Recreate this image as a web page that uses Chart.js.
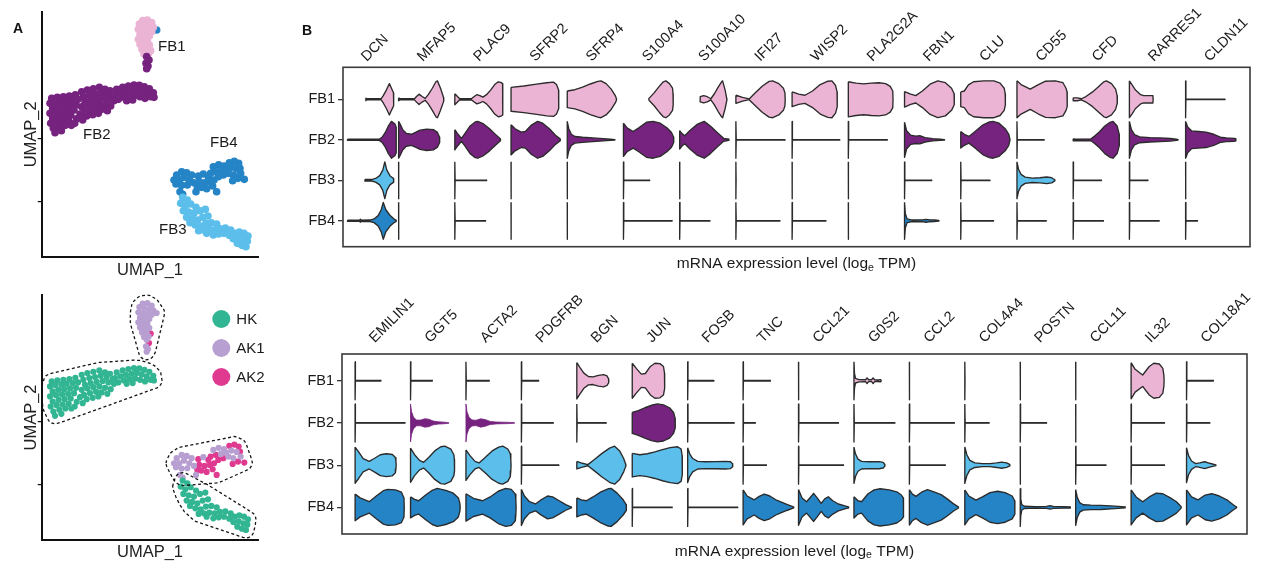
<!DOCTYPE html>
<html>
<head>
<meta charset="utf-8">
<title>Fibroblast subsets</title>
<script src="https://cdn.jsdelivr.net/npm/chart.js@4.4.1/dist/chart.umd.min.js"></script>
<style>
  html, body { margin: 0; padding: 0; background: #fff; }
  body { width: 1262px; height: 567px; position: relative; overflow: hidden; font-family: 'Liberation Sans', Arial, Helvetica, sans-serif; }
  .box { position: absolute; }
  .tag { position: absolute; font-weight: bold; font-size: 14px; line-height: 14px; color: #111; z-index: 2; }
</style>
</head>
<body>
<div class="box" style="left:0;top:0;width:280px;height:285px"><canvas id="umapCluster"></canvas></div>
<div class="box" style="left:0;top:285px;width:280px;height:282px"><canvas id="umapSample"></canvas></div>
<div class="box" style="left:290px;top:0;width:972px;height:285px"><canvas id="violinTop"></canvas></div>
<div class="box" style="left:290px;top:285px;width:972px;height:282px"><canvas id="violinBottom"></canvas></div>
<div class="tag" style="left:13px;top:21px">A</div>
<div class="tag" style="left:302px;top:23px">B</div>
<script>
// ---------- data ----------
const subsets = ['FB1', 'FB2', 'FB3', 'FB4'];
const samples = ['HK', 'AK1', 'AK2'];
const sampleCode = { H: 'HK', '1': 'AK1', '2': 'AK2' };
const umapYTicks = [16.5, 35.5];

// cells on the UMAP: [UMAP_1, UMAP_2, sample]
const cellsFB1 = [
  [30.3,70.8,'1'],[31.7,71.0,'1'],[33.0,70.2,'1'],[29.3,69.8,'1'],[30.7,69.5,'1'],[32.2,69.2,'1'],[33.5,68.8,'1'],
  [29.0,68.2,'1'],[30.3,68.0,'1'],[31.7,67.8,'1'],[33.0,67.5,'1'],[29.5,66.6,'1'],[30.9,66.4,'1'],[32.3,66.2,'1'],
  [29.0,65.2,'1'],[30.3,65.0,'1'],[31.7,64.8,'1'],[29.5,63.7,'1'],[30.9,63.4,'1'],[32.3,63.5,'1'],[30.1,62.2,'1'],
  [31.5,62.0,'1'],[32.7,61.8,'2'],[30.7,60.8,'1'],[32.1,61.0,'1']
];
const cellsFB2 = [
  [31.5,60.0,'1'],[32.2,59.0,'2'],[31.3,58.0,'1'],[31.9,57.2,'1'],[31.5,56.4,'1'],
  [22.5,50.2,'H'],[24.3,50.8,'H'],[26.0,51.2,'H'],[27.7,51.5,'H'],[29.3,51.4,'H'],[30.8,51.0,'H'],[32.3,50.4,'H'],
  [33.5,49.2,'H'],[33.7,47.8,'H'],[22.0,48.5,'H'],[23.7,49.0,'H'],[25.3,49.5,'H'],[27.0,49.8,'H'],[28.5,50.0,'H'],
  [30.0,49.6,'H'],[31.5,49.0,'H'],[32.7,48.0,'H'],[23.0,47.2,'H'],[24.7,47.8,'H'],[26.3,48.2,'H'],[28.0,48.4,'H'],
  [29.5,48.0,'H'],[31.0,47.5,'H'],[25.5,46.8,'H'],[27.3,47.0,'H'],
  [12.0,49.5,'H'],[13.7,50.0,'H'],[15.5,50.4,'H'],[17.3,50.8,'H'],[19.0,50.2,'H'],[20.5,49.8,'H'],
  [12.5,48.0,'H'],[14.3,48.5,'H'],[16.0,48.8,'H'],[17.7,49.2,'H'],[19.5,48.8,'H'],[21.3,48.2,'H'],
  [13.0,46.5,'H'],[14.7,47.0,'H'],[16.5,47.4,'H'],[18.3,47.6,'H'],[20.0,47.2,'H'],[21.7,46.8,'H'],
  [12.0,45.0,'H'],[13.7,45.4,'H'],[15.5,45.8,'H'],[17.3,46.0,'H'],[19.0,45.6,'H'],[20.7,45.2,'H'],
  [12.7,43.5,'H'],[14.5,44.0,'H'],[16.3,44.4,'H'],[18.0,44.2,'H'],[19.7,43.8,'H'],
  [13.5,42.2,'H'],[15.3,42.6,'H'],[17.0,43.0,'H'],
  [3.0,47.5,'H'],[4.7,47.8,'H'],[6.5,48.0,'H'],[8.3,48.2,'H'],[10.1,48.6,'H'],
  [2.5,46.0,'H'],[4.1,46.4,'H'],[5.9,46.6,'H'],[7.5,46.8,'H'],[9.3,47.0,'H'],[10.9,47.2,'H'],
  [3.3,44.5,'H'],[5.0,45.0,'H'],[6.7,45.2,'H'],[8.5,45.4,'H'],[10.3,45.6,'H'],
  [2.5,43.0,'H'],[4.3,43.4,'H'],[6.1,43.6,'H'],[7.9,43.8,'H'],[9.7,44.0,'H'],[11.5,42.8,'H'],
  [3.3,41.5,'H'],[5.1,42.0,'H'],[6.9,42.2,'H'],[8.7,42.4,'H'],[10.5,41.4,'H'],[12.3,41.0,'H'],
  [2.7,40.0,'H'],[4.5,40.4,'H'],[6.3,40.6,'H'],[8.1,40.8,'H'],[9.9,40.0,'H'],
  [3.5,38.5,'H'],[5.3,39.0,'H'],[7.1,39.4,'H'],[8.9,39.4,'H'],[4.0,37.2,'H'],[5.9,37.8,'H']
];
const cellsFB3 = [
  [42.3,17.8,'H'],[43.7,17.0,'H'],[41.7,16.0,'H'],[43.1,15.2,'H'],[44.7,15.8,'H'],[46.3,14.8,'H'],[42.5,13.8,'H'],
  [44.1,13.4,'H'],[45.7,13.0,'H'],[47.5,13.8,'H'],[49.1,14.2,'H'],[43.5,11.8,'H'],[45.1,11.4,'H'],[46.7,11.0,'H'],
  [48.3,11.8,'H'],[49.9,12.2,'H'],[44.5,10.2,'H'],[46.1,9.5,'H'],[47.7,9.2,'H'],[49.3,10.0,'H'],[50.9,10.2,'H'],
  [52.5,9.8,'H'],[47.1,7.8,'H'],[48.7,8.0,'H'],[50.3,8.2,'H'],[51.9,8.0,'H'],[53.5,8.4,'H'],[55.1,8.6,'H'],
  [56.7,8.0,'H'],[51.5,6.5,'H'],[53.1,6.8,'H'],[54.7,7.0,'H'],[56.3,6.4,'H'],[57.9,7.0,'H'],[59.3,7.4,'H'],
  [60.7,7.0,'H'],[61.9,6.2,'H'],[57.5,5.4,'H'],[59.1,5.6,'H'],[60.5,5.0,'H'],[61.7,4.6,'H'],[58.7,4.0,'H'],
  [60.1,3.4,'H'],[61.3,3.0,'H'],[49.5,7.0,'H']
];
const cellsFB4 = [
  [34.5,68.0,'1'],
  [39.7,23.0,'1'],[40.5,24.5,'1'],[42.0,25.5,'1'],[43.5,25.2,'1'],[45.0,24.5,'1'],[41.3,23.0,'1'],[42.7,23.8,'1'],
  [44.3,23.0,'1'],[45.7,22.2,'1'],[40.3,21.8,'1'],[42.0,21.4,'1'],[43.7,21.5,'1'],[41.5,19.5,'1'],[42.3,18.7,'1'],
  [47.0,24.2,'2'],[48.5,24.8,'1'],[50.0,24.0,'2'],[47.3,22.5,'2'],[48.9,22.2,'2'],[50.5,22.5,'2'],[47.9,20.8,'2'],
  [49.5,20.4,'2'],[51.3,21.2,'2'],[52.5,19.5,'2'],[46.3,19.5,'1'],[46.7,21.0,'2'],
  [51.5,27.0,'1'],[53.1,27.6,'1'],[54.7,27.2,'1'],[56.3,28.2,'2'],[57.8,28.6,'2'],[59.1,28.0,'2'],[52.3,25.5,'2'],
  [53.8,25.8,'1'],[55.3,26.2,'1'],[56.9,26.8,'1'],[58.5,26.4,'1'],[59.7,25.0,'1'],[53.0,24.0,'2'],[54.5,24.5,'2'],
  [56.0,25.0,'1'],[57.5,24.5,'1'],[58.9,23.5,'2'],[51.7,23.0,'2'],[50.7,25.0,'2'],[57.3,22.8,'2'],[59.5,26.5,'2'],
  [60.8,23.2,'2']
];

const topGenes = ['DCN','MFAP5','PLAC9','SFRP2','SFRP4','S100A4','S100A10','IFI27','WISP2','PLA2G2A','FBN1','CLU','CD55','CFD','RARRES1','CLDN11'];
const bottomGenes = ['EMILIN1','GGT5','ACTA2','PDGFRB','BGN','JUN','FOSB','TNC','CCL21','G0S2','CCL2','COL4A4','POSTN','CCL11','IL32','COL18A1'];

// one entry per subset (FB1..FB4): a number = almost only zeros (spike at 0, thin tail up to that level),
// a list = [expression level, relative density]
const topViolins = [
  [ [[4.6,0.08],[4.7,0.03],[7.6,0.03],[8.0,0.2],[8.6,0.5],[9.2,0.85],[9.6,0.6],[10,0.35],[10.05,0]],
    [[1.0,0.03],[7.2,0.03],[7.8,0.15],[8.4,0.4],[9.0,0.75],[9.6,1.0],[10.3,0.85],[10.5,0.7],[10.55,0]],
    [[4.4,0.04],[5.7,0.04],[6.5,0.1],[7.3,0.25],[7.9,0.55],[8.3,1.0],[8.7,0.55],[9.3,0.25],[10.0,0.1],[10.05,0]],
    [[1.0,0.03],[3.4,0.03],[3.5,0.08],[3.6,0.03],[5.4,0.04],[6.2,0.1],[7.0,0.28],[7.6,0.6],[8.0,1.0],[8.5,0.6],[9.3,0.3],[10.0,0.12],[10.5,0.03],[10.55,0]] ],
  [ [[0,0.08],[0.3,0.03],[3.1,0.03],[3.6,0.18],[4.0,0.28],[4.6,0.15],[5.2,0.05],[5.8,0.25],[6.6,0.6],[7.3,0.95],[7.6,1.0],[8.2,0.6],[8.8,0.1],[8.85,0]],
    [[0,1.0],[0.3,0.85],[0.8,0.55],[1.5,0.35],[2.5,0.3],[3.3,0.4],[4.2,0.52],[5.5,0.58],[6.8,0.55],[7.6,0.4],[8.0,0.15],[8.05,0]],
    0, 0 ],
  [ [[0,0.3],[0.9,0.04],[3.3,0.04],[3.8,0.15],[4.3,0.25],[4.9,0.2],[5.5,0.12],[6.2,0.25],[7.0,0.5],[7.8,0.8],[8.5,0.95],[9.0,0.92],[9.35,0.85],[9.4,0]],
    [[0,0.55],[0.5,0.35],[1.3,0.08],[2.0,0.35],[3.0,0.75],[4.0,0.97],[4.5,1.0],[5.5,0.88],[6.8,0.6],[8.0,0.28],[8.9,0.05],[8.95,0]],
    6.2, 6.0 ],
  [ [[0,0.65],[2.5,0.72],[5.0,0.82],[7.0,0.9],[8.3,0.93],[8.9,0.8],[9.3,0.5],[9.35,0]],
    [[0,0.82],[0.8,0.6],[2.0,0.42],[2.8,0.45],[4.0,0.8],[5.2,1.0],[6.2,0.9],[7.5,0.6],[8.7,0.25],[9.6,0.05],[9.65,0]],
    0, 0 ],
  [ [[0,0.45],[1.5,0.52],[3,0.66],[4.5,0.83],[6,0.97],[6.6,1.0],[7.6,0.85],[8.6,0.55],[9.4,0.2],[9.6,0.05],[9.65,0]],
    [[0,1.0],[0.3,0.6],[0.8,0.3],[1.5,0.18],[3.0,0.14],[5.0,0.1],[7.0,0.06],[8.5,0.03],[9.3,0.01],[9.35,0]],
    0, 0 ],
  [ [[4.9,0],[5.0,0.05],[6.0,0.35],[7.0,0.7],[7.8,0.95],[8.3,1.0],[9.0,0.85],[9.6,0.6],[9.7,0.3],[9.75,0]],
    [[0,0.9],[0.7,0.65],[1.9,0.45],[3.0,0.65],[4.5,0.95],[5.8,1.0],[7.2,0.9],[8.5,0.65],[9.4,0.4],[9.8,0.15],[9.85,0]],
    5.1, 9.5 ],
  [ [[4.0,0],[4.02,0.14],[4.7,0.2],[5.4,0.14],[6.1,0.03],[6.8,0.3],[7.5,0.65],[8.2,0.95],[8.4,1.0],[8.9,0.5],[9.2,0.05],[9.25,0]],
    [[0,0.5],[0.4,0.35],[1.0,0.22],[2.0,0.5],[3.5,0.85],[4.8,1.0],[6.0,0.75],[7.5,0.35],[8.6,0.08],[9.6,0.03],[9.65,0]],
    0, 5.9 ],
  [ [[0,0.22],[1.3,0.1],[2.6,0.02],[3.8,0.35],[5.2,0.72],[6.5,0.97],[7.2,1.0],[8.4,0.85],[9.3,0.6],[9.6,0.35],[9.65,0]],
    9.6, 0, 8.6 ],
  [ [[0,0.4],[1.3,0.28],[2.5,0.22],[4.0,0.45],[5.5,0.8],[7.0,0.98],[7.8,1.0],[8.5,0.75],[8.8,0.4],[8.85,0]],
    9.3, 0, 6.6 ],
  [ [[0,0.95],[1.5,0.88],[3.0,0.84],[4.5,0.88],[6.0,0.9],[7.3,0.85],[8.2,0.7],[8.7,0.45],[8.75,0]],
    7.6, 0, 0 ],
  [ [[0,0.42],[1.2,0.28],[2.2,0.2],[3.5,0.45],[5.0,0.82],[6.5,1.0],[8.0,0.9],[9.2,0.6],[9.7,0.3],[9.75,0]],
    [[0,0.95],[0.4,0.5],[1.2,0.25],[2.2,0.2],[3.0,0.22],[4.0,0.12],[5.5,0.06],[7.0,0.03],[7.8,0.01],[7.85,0]],
    5.3,
    [[0,1.0],[0.15,0.4],[0.5,0.1],[1.5,0.04],[3.5,0.05],[4.2,0.08],[4.9,0.05],[5.8,0.04],[6.7,0.02],[6.75,0]] ],
  [ [[0,0.4],[0.7,0.45],[1.5,0.78],[2.5,0.95],[4.5,1.0],[6.5,1.0],[7.7,0.88],[8.5,0.6],[8.7,0.3],[8.75,0]],
    [[0,0.45],[0.7,0.3],[1.6,0.18],[2.8,0.45],[4.3,0.8],[5.6,0.97],[6.3,1.0],[7.5,0.9],[8.7,0.6],[9.4,0.3],[9.6,0.05],[9.65,0]],
    5.7, 6.4 ],
  [ [[0,1.0],[0.8,0.8],[2.6,0.55],[4.2,0.8],[5.6,0.98],[7.5,1.0],[9.0,0.9],[9.6,0.6],[9.8,0.4],[9.85,0]],
    5.3,
    [[0,1.0],[0.3,0.6],[0.8,0.32],[1.6,0.17],[3.0,0.12],[4.5,0.14],[5.8,0.18],[6.8,0.14],[7.4,0.03],[7.45,0]],
    5.7 ],
  [ [[0,0.08],[0.8,0.08],[1.6,0.03],[2.5,0.15],[3.8,0.4],[5.0,0.7],[6.0,0.95],[6.5,1.0],[7.5,0.85],[8.3,0.55],[8.6,0.2],[8.65,0]],
    [[0,0.05],[0.5,0.04],[3.5,0.05],[4.2,0.2],[5.2,0.45],[6.2,0.75],[7.2,0.95],[7.8,1.0],[8.6,0.75],[9.0,0.3],[9.05,0]],
    5.5, 5.9 ],
  [ [[0,1.0],[0.5,0.8],[1.2,0.5],[2.2,0.25],[2.8,0.2],[4.6,0.2],[4.65,0]],
    [[0,1.0],[0.4,0.55],[1.0,0.28],[2.0,0.16],[4.0,0.12],[6.0,0.1],[8.0,0.07],[9.2,0.03],[9.5,0.01],[9.55,0]],
    3.6, 5.8 ],
  [ 7.7,
    [[0,1.0],[0.4,0.7],[1.2,0.48],[2.5,0.45],[4.0,0.42],[5.5,0.3],[6.8,0.14],[8.0,0.1],[9.5,0.08],[9.8,0.06],[9.85,0]],
    0, 2.3 ]
];

const bottomViolins = [
  [ 5.1, 9.9,
    [[0,0.95],[0.7,0.7],[1.6,0.35],[2.8,0.2],[3.8,0.35],[5.0,0.55],[6.2,0.6],[7.4,0.56],[8.0,0.4],[8.1,0.2],[8.15,0]],
    [[0,0.7],[1.0,0.5],[2.8,0.3],[4.2,0.6],[5.6,0.88],[6.5,0.95],[8.0,0.92],[9.2,0.8],[9.7,0.5],[9.75,0]] ],
  [ 4.3,
    [[0,1.0],[0.2,0.6],[0.6,0.3],[1.2,0.15],[2.0,0.15],[2.8,0.22],[3.6,0.2],[4.5,0.1],[5.5,0.06],[6.8,0.04],[7.6,0.01],[7.65,0]],
    [[0,0.9],[0.8,0.55],[1.8,0.25],[2.6,0.15],[3.6,0.4],[4.8,0.75],[6.0,0.97],[6.8,1.0],[8.0,0.85],[8.6,0.55],[8.7,0.3],[8.75,0]],
    [[0,0.55],[0.8,0.42],[1.6,0.35],[3.0,0.65],[4.3,0.9],[5.3,1.0],[7.0,0.9],[8.5,0.75],[9.5,0.5],[9.8,0.2],[9.85,0]] ],
  [ 4.6,
    [[0,1.0],[0.2,0.6],[0.6,0.3],[1.2,0.16],[2.0,0.14],[2.9,0.22],[3.8,0.18],[4.8,0.08],[6.0,0.05],[7.5,0.04],[8.8,0.03],[9.6,0.01],[9.65,0]],
    [[0,0.8],[0.8,0.5],[1.8,0.2],[2.6,0.12],[3.8,0.4],[5.2,0.75],[6.5,0.95],[7.3,1.0],[8.3,0.85],[8.8,0.6],[8.9,0.3],[8.95,0]],
    [[0,0.72],[1.5,0.48],[3.3,0.35],[4.8,0.55],[6.4,0.85],[7.9,1.0],[9.0,0.95],[9.8,0.7],[9.9,0.4],[9.95,0]] ],
  [ 3.4, 6.3, 7.4,
    [[0,0.95],[0.6,0.6],[1.6,0.3],[2.8,0.18],[3.8,0.38],[5.2,0.6],[6.2,0.55],[7.5,0.35],[8.8,0.15],[9.9,0.02],[9.95,0]] ],
  [ [[0,0.96],[0.6,0.7],[1.4,0.4],[2.3,0.22],[3.2,0.2],[4.3,0.28],[5.3,0.32],[6.0,0.25],[6.3,0.1],[6.35,0]],
    5.8,
    [[0,0.2],[1.1,0.1],[2.2,0.03],[3.5,0.3],[5.0,0.62],[6.5,0.9],[7.5,1.0],[8.5,0.75],[9.3,0.35],[9.7,0.05],[9.75,0]],
    [[0,0.5],[0.9,0.4],[1.9,0.35],[3.2,0.55],[4.8,0.82],[6.2,0.98],[6.8,1.0],[8.0,0.75],[9.2,0.4],[9.8,0.15],[9.85,0]] ],
  [ [[0,0.92],[0.8,0.65],[1.8,0.35],[2.6,0.38],[3.6,0.75],[4.5,0.92],[5.5,0.9],[6.2,0.75],[6.4,0.4],[6.45,0]],
    [[0,0.55],[1.2,0.65],[2.5,0.8],[3.8,0.93],[5.0,1.0],[6.2,0.95],[7.4,0.8],[8.2,0.55],[8.5,0.25],[8.55,0]],
    [[0,0.62],[1.5,0.55],[3.0,0.6],[4.5,0.7],[6.0,0.82],[7.5,0.92],[9.0,0.97],[9.7,0.85],[9.9,0.5],[9.95,0]],
    7.9 ],
  [ 5.2, 9.2,
    [[0,0.92],[0.4,0.6],[1.0,0.35],[2.0,0.2],[3.5,0.18],[5.5,0.19],[7.5,0.2],[8.5,0.18],[8.9,0.08],[8.95,0]],
    9.9 ],
  [ 5.4, 2.4, 4.6,
    [[0,0.92],[0.8,0.6],[2.2,0.4],[3.2,0.58],[4.2,0.7],[5.3,0.6],[6.5,0.4],[7.6,0.28],[8.8,0.15],[10.0,0.03],[10.05,0]] ],
  [ 0, 7.9, 8.9,
    [[0,0.94],[0.7,0.5],[1.6,0.3],[2.4,0.55],[3.0,0.74],[3.7,0.5],[4.5,0.21],[5.2,0.45],[5.9,0.56],[6.8,0.35],[7.9,0.18],[9.2,0.08],[9.9,0.03],[9.95,0]] ],
  [ [[0,1.0],[0.1,0.4],[0.3,0.12],[1.0,0.06],[2.3,0.05],[2.6,0.15],[2.9,0.05],[3.5,0.05],[3.8,0.15],[4.1,0.05],[4.8,0.04],[5.3,0.06],[5.4,0]],
    8.1,
    [[0,0.95],[0.3,0.6],[0.8,0.32],[1.5,0.2],[3.0,0.18],[5.0,0.19],[5.8,0.15],[6.1,0.05],[6.15,0]],
    [[0,0.56],[0.8,0.35],[1.5,0.3],[2.8,0.72],[4.0,0.92],[5.2,0.98],[7.0,0.92],[8.5,0.82],[9.4,0.65],[9.8,0.5],[9.85,0]] ],
  [ 0, 8.9, 7.1,
    [[0,0.93],[0.6,0.7],[1.3,0.58],[2.4,0.8],[3.6,0.93],[5.0,0.8],[6.3,0.67],[7.5,0.45],[8.7,0.2],[9.7,0.03],[9.75,0]] ],
  [ 0, 4.8,
    [[0,0.96],[0.4,0.55],[1.0,0.25],[2.0,0.12],[3.5,0.08],[5.0,0.08],[6.3,0.12],[7.3,0.16],[8.3,0.12],[8.9,0.04],[8.95,0]],
    [[0,0.92],[0.8,0.6],[2.2,0.38],[3.5,0.55],[5.0,0.78],[6.5,0.85],[8.0,0.78],[9.4,0.6],[9.9,0.35],[9.95,0]] ],
  [ 0, 5.2, 0,
    [[0,1.0],[0.1,0.45],[0.3,0.15],[0.8,0.06],[3.0,0.04],[5.2,0.05],[5.9,0.09],[6.6,0.05],[8.5,0.04],[9.9,0.03],[9.95,0]] ],
  [ 0, 0, 6.0,
    [[0,0.94],[0.3,0.55],[0.8,0.25],[1.5,0.14],[3.0,0.12],[5.0,0.11],[7.0,0.08],[8.5,0.05],[9.8,0.02],[9.85,0]] ],
  [ [[0,0.95],[0.8,0.6],[2.3,0.3],[3.6,0.75],[4.5,0.92],[5.6,0.88],[6.3,0.65],[6.5,0.3],[6.55,0]],
    6.6, 6.6,
    [[0,0.92],[1.0,0.55],[2.3,0.3],[3.6,0.55],[5.0,0.75],[6.3,0.72],[7.8,0.5],[9.0,0.3],[9.9,0.05],[9.95,0]] ],
  [ 5.3, 4.6,
    [[0,0.92],[0.4,0.5],[1.0,0.22],[1.8,0.08],[2.6,0.12],[3.6,0.18],[4.6,0.1],[5.8,0.02],[5.85,0]],
    [[0,0.92],[1.0,0.55],[2.3,0.4],[3.7,0.65],[5.0,0.72],[6.5,0.6],[8.0,0.4],[9.2,0.15],[9.9,0.02],[9.95,0]] ]
];

// ---------- styles ----------
const FONT = "'Liberation Sans', Arial, Helvetica, sans-serif";
Chart.defaults.font.family = FONT;
Chart.defaults.color = '#1a1a1a';
const subsetColors = { FB1: '#ecb4d4', FB2: '#76237f', FB3: '#5cbeea', FB4: '#2484c6' };
const sampleColors = { HK: '#31b592', AK1: '#b89fd1', AK2: '#df3a90' };
const plainOutline = ['GGT5:FB2', 'ACTA2:FB2'];   // drawn without the dark edge
const SLOT = 11;                                   // one gene column on the expression axis
const clusterLabelAt = { FB1: [34.9, 62.9], FB2: [12.4, 36.5], FB4: [50.5, 34.1], FB3: [35.2, 8.0] };

// ---------- UMAP panels ----------
const clusterCells = { FB1: cellsFB1, FB2: cellsFB2, FB3: cellsFB3, FB4: cellsFB4 };

function convexHull(pts) {
  pts = pts.slice().sort((a, b) => a[0] - b[0] || a[1] - b[1]);
  const cross = (o, a, b) => (a[0] - o[0]) * (b[1] - o[1]) - (a[1] - o[1]) * (b[0] - o[0]);
  const lower = [], upper = [];
  for (const p of pts) {
    while (lower.length >= 2 && cross(lower[lower.length - 2], lower[lower.length - 1], p) <= 0) lower.pop();
    lower.push(p);
  }
  for (let i = pts.length - 1; i >= 0; i--) {
    const p = pts[i];
    while (upper.length >= 2 && cross(upper[upper.length - 2], upper[upper.length - 1], p) <= 0) upper.pop();
    upper.push(p);
  }
  upper.pop(); lower.pop();
  return lower.concat(upper);
}

// groups of neighbouring cells; tiny stray groups join the closest big one
function outlineGroups() {
  const comps = [];
  Object.values(clusterCells).forEach(cells => {
    const seen = cells.map(() => false);
    cells.forEach((c, i) => {
      if (seen[i]) return;
      const comp = [], stack = [i];
      seen[i] = true;
      while (stack.length) {
        const k = stack.pop();
        comp.push(cells[k]);
        cells.forEach((d, j) => {
          if (!seen[j] && Math.hypot(d[0] - cells[k][0], d[1] - cells[k][1]) < 3.2) { seen[j] = true; stack.push(j); }
        });
      }
      comps.push(comp);
    });
  });
  const big = comps.filter(c => c.length >= 8);
  comps.filter(c => c.length < 8).forEach(small => {
    let best = null, bd = Infinity;
    big.forEach(b => b.forEach(p => small.forEach(q => {
      const d = Math.hypot(p[0] - q[0], p[1] - q[1]);
      if (d < bd) { bd = d; best = b; }
    })));
    best.push(...small);
  });
  return big;
}

const sampleOutlines = {
  id: 'sampleOutlines',
  afterDatasetsDraw(chart) {
    const {ctx, scales: {x, y}} = chart;
    const pad = 8;
    ctx.save();
    ctx.setLineDash([3, 2.5]);
    ctx.lineWidth = 1.3;
    ctx.strokeStyle = '#151515';
    outlineGroups().forEach(group => {
      const ring = [];
      group.forEach(c => {
        const px = x.getPixelForValue(c[0]), py = y.getPixelForValue(c[1]);
        for (let k = 0; k < 16; k++) {
          const a = k * Math.PI / 8;
          ring.push([px + pad * Math.cos(a), py + pad * Math.sin(a)]);
        }
      });
      const hull = convexHull(ring);
      ctx.beginPath();
      hull.forEach((p, i) => (i ? ctx.lineTo(p[0], p[1]) : ctx.moveTo(p[0], p[1])));
      ctx.closePath();
      ctx.stroke();
    });
    ctx.restore();
  }
};

const clusterLabels = {
  id: 'clusterLabels',
  afterDatasetsDraw(chart) {
    const {ctx, scales: {x, y}} = chart;
    ctx.save();
    ctx.font = '15px ' + FONT;
    ctx.fillStyle = '#1a1a1a';
    ctx.textBaseline = 'middle';
    Object.entries(clusterLabelAt).forEach(([name, p]) => {
      ctx.fillText(name, x.getPixelForValue(p[0]), y.getPixelForValue(p[1]));
    });
    ctx.restore();
  }
};

const sampleLegend = {
  id: 'sampleLegend',
  afterDraw(chart) {
    const {ctx, chartArea} = chart;
    ctx.save();
    chart.data.datasets.forEach((ds, i) => {
      const cx = chartArea.right - 37, cy = chartArea.top + 24 + i * 29;
      ctx.beginPath();
      ctx.arc(cx, cy, 9, 0, Math.PI * 2);
      ctx.fillStyle = ds.backgroundColor;
      ctx.fill();
      ctx.font = '15px ' + FONT;
      ctx.fillStyle = '#1a1a1a';
      ctx.textBaseline = 'middle';
      ctx.fillText(ds.label, cx + 15, cy + 0.5);
    });
    ctx.restore();
  }
};

function umapChart(id, datasets, padTop, bottomH, plugins) {
  return new Chart(document.getElementById(id), {
    type: 'scatter',
    data: { datasets },
    options: {
      responsive: true, maintainAspectRatio: false, animation: false, events: [],
      layout: { padding: { top: padTop, right: 21.7, left: 0, bottom: 0 } },
      plugins: { legend: { display: false }, tooltip: { enabled: false } },
      scales: {
        x: {
          min: 0, max: 65,
          grid: { display: false, drawTicks: false },
          ticks: { display: false },
          border: { display: true, color: '#111', width: 2 },
          title: { display: true, text: 'UMAP_1', font: { size: 16.5 }, color: '#222', padding: { top: 0, bottom: 5 } },
          afterFit: s => { s.height = bottomH; s.paddingLeft = s.paddingRight = 0; }
        },
        y: {
          min: 0, max: 73.4,
          grid: { display: true, drawOnChartArea: false, drawTicks: true, tickLength: 4, color: '#111', lineWidth: 1.2 },
          ticks: { display: false },
          afterBuildTicks: s => { s.ticks = umapYTicks.map(v => ({ value: v })); },
          border: { display: true, color: '#111', width: 2 },
          title: { display: true, text: 'UMAP_2', font: { size: 16.5 }, color: '#222', padding: { top: 22, bottom: 0 } },
          afterFit: s => { s.width = 41.7; s.paddingTop = s.paddingBottom = 0; }
        }
      }
    },
    plugins
  });
}

const clusterDatasets = ['FB2', 'FB1', 'FB3', 'FB4'].map(name => ({
  label: name,
  data: clusterCells[name].map(c => ({ x: c[0], y: c[1] })),
  backgroundColor: subsetColors[name],
  pointRadius: 3.8, pointBorderWidth: 0
}));
umapChart('umapCluster', clusterDatasets, 12, 28.3, [clusterLabels]);

const allCells = [].concat(cellsFB1, cellsFB2, cellsFB3, cellsFB4);
const sampleDatasets = samples.map(name => ({
  label: name,
  data: allCells.filter(c => sampleCode[c[2]] === name).map(c => ({ x: c[0], y: c[1] })),
  backgroundColor: sampleColors[name],
  pointRadius: 3.1, pointBorderWidth: 0
}));
umapChart('umapSample', sampleDatasets, 10, 27, [sampleOutlines, sampleLegend]);

// ---------- violin panels ----------
function violinProfile(v) {
  if (typeof v === 'number') {
    return v > 0 ? [[0, 1], [0.06, 0.012], [v, 0.012], [v + 0.03, 0]] : [[0, 1], [0.04, 0]];
  }
  return v;
}

function buildViolins(genes, violins, halfWidth) {
  const datasets = [];
  genes.forEach((gene, gi) => {
    violins[gi].forEach((v, ri) => {
      const prof = violinProfile(v);
      const x0 = gi * SLOT, row = ri + 1;
      const upper = prof.map(p => ({ x: x0 + p[0], y: row - p[1] * halfWidth }));
      const lower = prof.slice().reverse().map(p => ({ x: x0 + p[0], y: row + p[1] * halfWidth }));
      const color = subsetColors[subsets[ri]];
      const plain = plainOutline.includes(gene + ':' + subsets[ri]);
      datasets.push({
        label: gene + ' ' + subsets[ri],
        data: upper.concat(lower, [upper[0]]),
        showLine: true, fill: 'shape', tension: 0,
        backgroundColor: color,
        borderColor: plain ? color : '#2b2b2b',
        borderWidth: plain ? 0.8 : 1.35,
        borderJoinStyle: 'round',
        pointRadius: 0
      });
    });
  });
  return datasets;
}

const panelBox = {
  id: 'panelBox',
  afterDatasetsDraw(chart) {
    const {ctx, chartArea: a} = chart;
    ctx.save();
    ctx.strokeStyle = '#3a3a3a';
    ctx.lineWidth = 1.6;
    ctx.strokeRect(a.left, a.top, a.right - a.left, a.bottom - a.top);
    ctx.restore();
  }
};

// x title with the subscript in log_e
const expressionTitle = {
  id: 'expressionTitle',
  afterDraw(chart) {
    const {ctx, chartArea: a} = chart;
    const size = 15.5;
    const parts = [['mRNA expression level (log', size, 0], ['e', size * 0.68, 4], [' TPM)', size, 0]];
    ctx.save();
    ctx.fillStyle = '#1a1a1a';
    ctx.textBaseline = 'middle';
    let total = 0;
    parts.forEach(p => { ctx.font = p[1] + 'px ' + FONT; total += ctx.measureText(p[0]).width; });
    let x = (a.left + a.right) / 2 - total / 2;
    const y = a.bottom + 17.5;
    parts.forEach(p => {
      ctx.font = p[1] + 'px ' + FONT;
      ctx.fillText(p[0], x, y + p[2]);
      x += ctx.measureText(p[0]).width;
    });
    ctx.restore();
  }
};

function violinChart(id, genes, violins, o) {
  return new Chart(document.getElementById(id), {
    type: 'scatter',
    data: { datasets: buildViolins(genes, violins, o.halfWidth) },
    options: {
      responsive: true, maintainAspectRatio: false, animation: false, events: [],
      layout: { padding: { top: 0, left: 0, right: o.padRight, bottom: 0 } },
      plugins: { legend: { display: false }, tooltip: { enabled: false } },
      scales: {
        x: {
          type: 'linear', position: 'bottom', min: o.xMin, max: o.xMax,
          grid: { display: false, drawTicks: false }, ticks: { display: false }, border: { display: false },
          afterFit: s => { s.height = o.bottomH; s.paddingLeft = s.paddingRight = 0; }
        },
        genes: {
          type: 'linear', axis: 'x', position: 'top', min: o.xMin, max: o.xMax,
          grid: { display: false, drawTicks: false }, border: { display: false },
          ticks: {
            autoSkip: false, minRotation: 45, maxRotation: 45, padding: o.labelPad,
            font: { size: 14.5 }, color: '#1a1a1a',
            callback: (v, i) => genes[i]
          },
          afterBuildTicks: s => { s.ticks = genes.map((g, i) => ({ value: i * SLOT + o.labelShift })); },
          // labels may run past the panel edge; keep the plot box where it is
          afterFit: s => { s.height = o.topH; s.paddingLeft = s.paddingRight = 0; }
        },
        y: {
          type: 'linear', min: o.yMin, max: o.yMax, reverse: true,
          grid: { display: true, drawOnChartArea: false, drawTicks: true, tickLength: 5, color: '#333', lineWidth: 1.3 },
          border: { display: false },
          ticks: { padding: 3, font: { size: 14.5 }, color: '#1a1a1a', callback: v => subsets[Math.round(v) - 1] },
          afterBuildTicks: s => { s.ticks = subsets.map((n, i) => ({ value: i + 1 })); },
          afterFit: s => { s.width = o.leftW; s.paddingTop = s.paddingBottom = 0; }
        }
      }
    },
    plugins: [panelBox, expressionTitle]
  });
}

violinChart('violinTop', topGenes, topViolins, {
  xMin: 0.12, xMax: 177.6, yMin: 0.21, yMax: 4.64, halfWidth: 0.455,
  leftW: 53, topH: 67.3, bottomH: 38.3, padRight: 12, labelShift: 6.6, labelPad: 2
});
violinChart('violinBottom', bottomGenes, bottomViolins, {
  xMin: -2.6, xMax: 177.0, yMin: 0.367, yMax: 4.63, halfWidth: 0.45,
  leftW: 52, topH: 69, bottomH: 33, padRight: 15, labelShift: 5.8, labelPad: 7.5
});
</script>
</body>
</html>
